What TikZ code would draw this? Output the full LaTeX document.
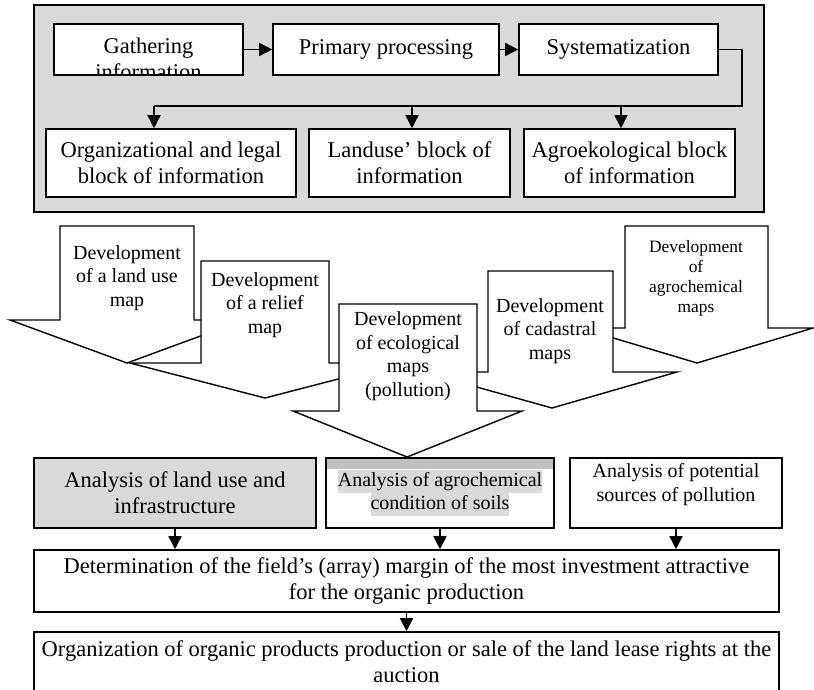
\documentclass[tikz,border=0pt]{standalone}
\usepackage{fontspec}
\setmainfont{Liberation Serif}
\usetikzlibrary{arrows.meta}
\definecolor{panel}{RGB}{217,217,217}
\definecolor{band}{RGB}{192,192,192}
\setlength{\fboxsep}{0pt}
\begin{document}
\begin{tikzpicture}[x=1pt,y=-1pt,line join=miter,>={Triangle[length=13pt,width=13pt]},line width=1.6pt]
	\tikzset{box/.style={draw,fill=white,inner sep=0pt,align=center,font=\fontsize{22.5}{26}\selectfont},
		smallbox/.style={box,font=\fontsize{20}{23}\selectfont},
		bigarrow/.style={draw,fill=white,line width=1.4pt},
		maptext/.style={align=center,inner sep=0pt,font=\fontsize{20}{23.5}\selectfont}}
	\useasboundingbox (0,0) rectangle (814,689);
	% information blocks
	\draw[fill=panel] (34,5) rectangle (764,212);
	\node[box,minimum width=189pt,minimum height=51pt,
		path picture={\node[align=center,inner sep=0pt,font=\fontsize{22.5}{26}\selectfont]
			at ([yshift=-9pt]path picture bounding box.center) {Gathering\\information};}] (gather) at (148.5,49.5) {};
	\node[box,minimum width=226pt,minimum height=51pt] (primary) at (386,49.5) {Primary processing};
	\node[box,minimum width=199pt,minimum height=51pt] (syst) at (618.5,49.5) {Systematization};
	\node[box,minimum width=250pt,minimum height=68pt] (orgblock) at (171,163) {Organizational and legal\\block of information};
	\node[box,minimum width=201pt,minimum height=68pt] (landblock) at (409.5,163) {Landuse’ block of\\information};
	\node[box,minimum width=211pt,minimum height=68pt] (agroblock) at (629.5,163) {Agroekological block\\of information};
	\draw[->] (gather) -- (primary);
	\draw[->] (primary) -- (syst);
	\coordinate (bend) at (742,106);
	\coordinate (drop1) at (154,106);
	\coordinate (drop2) at (412,106);
	\coordinate (drop3) at (621,106);
	\draw (syst.east) -| (bend) -- (drop1);
	\foreach \d/\b in {drop1/orgblock,drop2/landblock,drop3/agroblock}
	\draw[->] (\d) -- (\d |- \b.north);
	% maps
	\draw[bigarrow] (60,226) -- (194,226) -- (194,320) -- (244,320) -- (127,363) -- (10,320) -- (60,320) -- cycle;
	\node[maptext] (landmap) at (127,278) {Development\\of a land use\\map};
	\draw[bigarrow] (201,261) -- (329,261) -- (329,363) -- (400,363) -- (265,398) -- (130,363) -- (201,363) -- cycle;
	\node[maptext] (reliefmap) at (265,305) {Development\\of a relief\\map};
	\draw[bigarrow] (625,226) -- (768,226) -- (768,328) -- (813,328) -- (697,363) -- (580,328) -- (625,328) -- cycle;
	\node[maptext,font=\fontsize{17.4}{20}\selectfont] (agromap) at (696,278) {Development\\of\\agrochemical\\maps};
	\draw[bigarrow] (488,271) -- (613,271) -- (613,372) -- (677,372) -- (552,408) -- (423,372) -- (488,372) -- cycle;
	\node[maptext] (cadmap) at (550,331) {Development\\of cadastral\\maps};
	\draw[bigarrow] (339,304) -- (477,304) -- (477,411) -- (522,411) -- (407,457) -- (293,411) -- (339,411) -- cycle;
	\node[maptext] (ecomap) at (408,356) {Development\\of ecological\\maps\\(pollution)};
	% analysis and result
	\node[box,fill=panel,minimum width=282pt,minimum height=70pt] (anland) at (175,493) {Analysis of land use and\\infrastructure};
	\node[smallbox,minimum width=228pt,minimum height=70pt,
		path picture={\fill[band] (path picture bounding box.north west) rectangle ([yshift=-11pt]path picture bounding box.north east);}]
		(anagro) at (440,493) {\colorbox{panel}{\strut Analysis of agrochemical}\\\colorbox{panel}{\strut condition of soils}};
	\node[smallbox,minimum width=212pt,minimum height=70pt] (anpoll) at (676,493) {};
	\node[align=center,inner sep=0pt,font=\fontsize{20}{24}\selectfont] (anpolltext) at ([yshift=8pt]anpoll.center) {Analysis of potential\\sources of pollution};
	\node[box,minimum width=745pt,minimum height=62pt] (determ) at (406.5,581) {Determination of the field’s (array) margin of the most investment attractive\\for the organic production};
	\node[box,minimum width=745pt,minimum height=60pt] (organize) at (406.5,662) {Organization of organic products production or sale of the land lease rights at the\\auction};
	\foreach \a in {anland,anagro,anpoll}
	\draw[->] (\a) -- (\a |- determ.north);
	\draw[->] (determ) -- (organize);
\end{tikzpicture}
\end{document}
